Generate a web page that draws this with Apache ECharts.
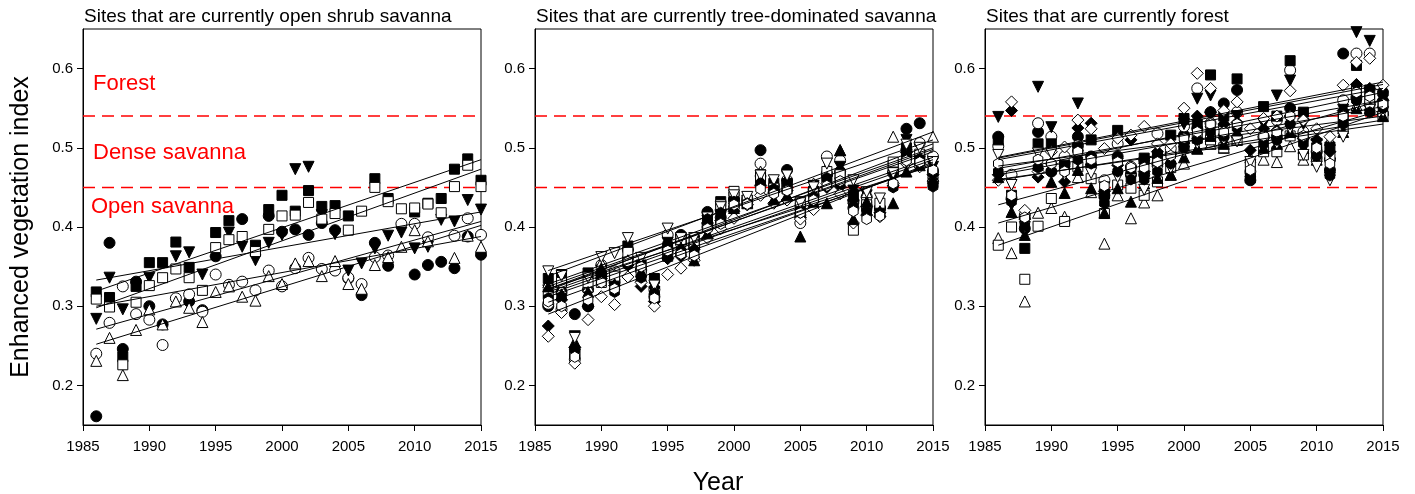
<!DOCTYPE html>
<html><head><meta charset="utf-8">
<script src="https://cdn.jsdelivr.net/npm/echarts@6/dist/echarts.min.js"></script>
<style>html,body{margin:0;padding:0;background:#fff}#c{width:1415px;height:494px}</style>
</head><body><div id="c"></div>
<script>
// ---------- DATA ----------
const years = [1986,1987,1988,1989,1990,1991,1992,1993,1994,1995,1996,1997,1998,1999,2000,2001,2002,2003,2004,2005,2006,2007,2008,2009,2010,2011,2012,2013,2014,2015];
const panelTitles = ['Sites that are currently open shrub savanna','Sites that are currently tree-dominated savanna','Sites that are currently forest'];
const xTicks = [1985,1990,1995,2000,2005,2010,2015];
const yTicks = [0.2,0.3,0.4,0.5,0.6];
const thresholds = [0.54,0.45];
const zoneLabels = ['Forest','Dense savanna','Open savanna'];
const trendYears = [1986,2015];

// Panel 1: open shrub savanna
const shrubFilledCircle  = [0.161,0.380,0.246,0.331,0.300,0.277,null,0.306,0.295,0.363,null,0.410,null,0.414,0.394,0.397,0.390,0.405,0.396,0.335,0.314,0.380,0.351,null,0.340,0.352,0.356,0.348,0.388,0.365];
const shrubOpenCircle    = [0.240,0.279,0.325,0.290,0.283,0.251,0.310,0.315,0.293,0.340,0.327,0.331,0.320,0.345,0.325,0.348,0.361,0.347,0.345,0.336,0.328,0.362,0.364,0.404,0.404,0.387,null,0.389,0.411,0.390];
const shrubFilledDownTri = [0.284,0.336,0.296,null,0.336,null,0.363,0.368,0.340,null,0.393,0.375,0.358,0.380,0.390,0.473,0.476,0.415,0.391,0.345,0.354,0.373,0.389,0.393,0.373,0.375,0.409,0.407,0.434,0.422];
const shrubOpenUpTri     = [0.231,0.260,0.213,0.270,0.296,0.277,0.306,0.298,0.280,0.318,0.325,0.312,0.307,0.338,0.328,0.354,0.357,0.338,0.357,0.328,0.322,0.352,0.362,0.375,0.396,0.382,null,0.361,0.389,0.375];
const shrubFilledSquare  = [0.318,0.311,0.236,0.325,0.355,0.355,0.381,0.349,null,0.393,0.408,null,0.377,0.422,0.440,0.420,0.446,0.426,0.427,0.414,null,0.461,0.436,null,0.419,0.430,0.436,0.473,0.486,0.459];
const shrubOpenSquare    = [0.309,0.299,0.226,0.305,0.326,0.336,0.347,0.336,0.320,0.374,0.384,0.388,0.369,0.397,0.414,0.415,0.431,0.410,0.417,0.396,0.420,0.450,0.432,0.423,0.424,0.429,0.418,0.451,0.478,0.451];
const shrubTrendStart = [0.300,0.271,0.333,0.252,0.319,0.298];
const shrubTrendEnd   = [0.388,0.407,0.419,0.402,0.485,0.473];

// Panel 2: tree-dominated savanna
const treeFilledCircle   = [0.300,0.318,0.290,0.300,0.340,0.330,0.360,0.345,0.312,0.372,0.390,0.375,0.419,0.412,0.434,0.432,0.497,0.452,0.472,0.415,0.440,0.466,0.470,0.432,0.426,0.424,0.470,0.524,0.531,0.470];
const treeOpenCircle     = [0.303,0.296,0.233,0.321,0.352,0.344,0.371,0.346,0.321,0.390,0.379,0.377,0.400,0.421,0.425,0.436,0.480,0.447,0.459,0.405,0.447,0.489,0.484,0.424,0.438,0.424,0.468,0.497,0.506,0.489];
const treeFilledDownTri  = [0.320,0.325,0.262,0.315,0.345,0.335,0.365,0.340,0.318,0.380,0.376,0.382,0.408,0.415,0.430,0.433,0.458,0.440,0.452,0.420,0.452,0.458,0.476,0.446,0.440,0.418,0.462,0.510,0.489,0.476];
const treeOpenUpTri      = [0.330,0.322,0.252,0.325,0.355,0.340,0.362,0.338,0.322,0.375,0.372,0.368,0.410,0.412,0.436,0.430,0.470,0.452,0.462,0.428,0.455,0.476,0.497,0.436,0.444,0.428,0.514,0.505,0.496,0.514];
const treeFilledSquare   = [0.335,0.340,0.242,0.342,0.338,0.333,0.376,0.352,0.335,0.372,0.386,0.383,0.414,0.432,0.438,0.430,0.466,0.455,0.455,0.424,0.445,0.463,0.462,0.440,0.426,0.420,0.478,0.500,0.484,0.456];
const treeOpenSquare     = [0.315,0.330,0.240,0.330,0.330,0.338,0.368,0.342,0.312,0.363,0.384,0.380,0.402,0.428,0.445,0.434,0.462,0.449,0.448,0.432,0.443,0.470,0.466,0.396,0.428,0.430,0.482,0.490,0.492,0.468];
const treeFilledDiamond  = [0.275,0.308,0.248,0.300,0.335,0.326,0.352,0.325,0.306,0.360,0.363,0.372,0.405,0.408,0.420,0.428,0.452,0.444,0.446,0.412,0.432,0.450,0.451,0.434,0.415,0.418,0.452,0.494,0.480,0.466];
const treeOpenDiamond    = [0.262,0.292,0.228,0.283,0.312,0.302,0.337,0.330,0.300,0.340,0.348,0.358,0.386,0.398,0.411,0.428,0.440,0.430,0.434,0.410,0.422,0.455,0.442,0.405,0.426,0.413,0.455,0.480,0.476,0.458];
const treeFilledUpTri    = [0.325,0.315,0.255,0.318,0.348,0.328,0.358,0.344,0.330,0.368,0.374,0.358,0.392,0.410,0.424,0.432,0.460,0.435,0.440,0.388,0.432,0.430,0.497,0.410,0.432,0.420,0.430,0.470,0.478,0.462];
const treeOpenDownTri    = [0.344,0.338,0.260,0.336,0.362,0.367,0.386,0.361,0.326,0.398,0.386,0.386,0.412,0.425,0.440,0.438,0.465,0.459,0.465,0.430,0.450,0.480,0.455,0.459,0.444,0.436,0.468,0.504,0.500,0.482];
const treeFilledHexagon  = [0.310,0.312,0.245,0.300,0.342,0.318,0.352,0.336,0.316,0.378,0.370,0.370,0.410,0.418,0.432,0.430,0.455,0.448,0.452,0.418,0.438,0.462,0.455,0.426,0.420,0.415,0.450,0.488,0.486,0.451];
const treeOpenHexagon    = [0.306,0.300,0.236,0.308,0.330,0.322,0.356,0.350,0.310,0.370,0.366,0.364,0.398,0.404,0.428,0.429,0.448,0.442,0.446,0.418,0.434,0.452,0.458,0.420,0.410,0.414,0.455,0.484,0.482,0.472];
const treeTrendStart = [0.320,0.322,0.325,0.328,0.338,0.318,0.305,0.290,0.322,0.345,0.315,0.312];
const treeTrendEnd   = [0.505,0.498,0.495,0.500,0.520,0.488,0.480,0.482,0.478,0.510,0.485,0.478];

// Panel 3: forest
const forestFilledCircle  = [0.514,0.436,0.398,0.520,0.470,0.480,0.514,0.489,0.440,0.489,0.466,0.466,0.480,0.493,0.516,0.524,0.545,0.556,0.573,0.459,0.514,0.514,0.550,0.512,0.495,0.472,0.619,0.564,0.555,0.570];
const forestOpenCircle    = [0.502,0.466,0.415,0.531,0.514,0.489,0.503,0.478,0.459,0.505,0.476,0.485,0.518,0.499,0.527,0.575,0.531,0.527,0.545,0.470,0.514,0.535,0.598,0.520,0.487,0.485,0.560,0.619,0.619,0.543];
const forestFilledDownTri = [0.539,0.428,0.405,0.577,0.526,0.470,0.556,0.472,0.430,0.480,0.470,0.474,0.472,0.485,0.530,0.562,0.566,0.506,0.540,0.478,0.530,0.566,0.585,0.530,0.505,0.480,0.548,0.646,0.635,0.560];
const forestOpenUpTri     = [0.386,0.367,0.306,0.418,0.424,0.413,0.463,0.444,0.379,0.440,0.411,0.431,0.440,0.466,0.480,0.499,0.505,0.500,0.510,0.488,0.485,0.482,0.502,0.485,0.490,0.510,0.525,0.554,0.554,0.548];
const forestFilledSquare  = [0.510,0.440,0.373,0.505,0.505,0.478,0.500,0.510,0.442,0.522,0.470,0.487,0.490,0.516,0.537,0.530,0.592,0.540,0.587,0.462,0.552,0.540,0.610,0.545,0.500,0.501,0.540,0.604,0.573,0.556];
const forestOpenSquare    = [0.377,0.400,0.334,0.401,0.436,0.407,0.476,0.461,0.417,0.453,0.449,0.440,0.457,0.475,0.500,0.512,0.510,0.500,0.510,0.480,0.495,0.495,0.515,0.491,0.495,0.490,0.527,0.573,0.560,0.540];
const forestFilledDiamond = [0.466,0.547,0.410,0.463,0.480,0.457,0.525,0.531,0.445,0.478,0.510,0.470,0.495,0.480,0.506,0.540,0.545,0.530,0.532,0.497,0.524,0.522,0.540,0.512,0.510,0.495,0.547,0.580,0.575,0.560];
const forestOpenDiamond   = [0.459,0.558,0.421,0.470,0.495,0.501,0.535,0.524,0.499,0.512,0.516,0.527,0.505,0.505,0.550,0.594,0.575,0.547,0.558,0.524,0.537,0.540,0.572,0.535,0.524,0.514,0.579,0.608,0.613,0.579];
const forestFilledUpTri   = [0.463,0.419,0.390,0.480,0.457,0.443,0.472,0.449,0.418,0.449,0.432,0.455,0.462,0.466,0.488,0.499,0.515,0.505,0.520,0.470,0.500,0.505,0.520,0.500,0.485,0.475,0.520,0.550,0.550,0.540];
const forestOpenDownTri   = [0.491,0.453,0.400,0.493,0.493,0.466,0.490,0.468,0.450,0.463,0.460,0.447,0.470,0.474,0.495,0.505,0.520,0.510,0.508,0.482,0.505,0.505,0.524,0.491,0.476,0.459,0.514,0.554,0.548,0.545];
const forestFilledHexagon = [0.470,0.432,0.402,0.475,0.470,0.475,0.485,0.480,0.430,0.470,0.460,0.460,0.470,0.480,0.500,0.510,0.520,0.515,0.525,0.465,0.505,0.510,0.530,0.505,0.490,0.465,0.530,0.560,0.545,0.550];
const forestOpenHexagon   = [0.480,0.440,0.412,0.485,0.480,0.470,0.495,0.485,0.452,0.482,0.475,0.475,0.482,0.490,0.512,0.520,0.530,0.520,0.530,0.472,0.515,0.520,0.540,0.515,0.500,0.480,0.540,0.570,0.565,0.555];
const forestTrendStart = [0.474,0.485,0.487,0.377,0.428,0.405,0.468,0.488,0.459,0.477,0.460,0.466];
const forestTrendEnd   = [0.560,0.575,0.580,0.545,0.560,0.548,0.570,0.583,0.535,0.540,0.530,0.552];

// ---------- STYLE ----------
const FONT = '"Liberation Sans", Arial, Helvetica, sans-serif';
const HEX = 'path://M0,-10L8.66,-5L8.66,5L0,10L-8.66,5L-8.66,-5Z';
const markers = {
  fc:{symbol:'circle',size:11,filled:true}, oc:{symbol:'circle',size:11,filled:false},
  fdt:{symbol:'triangle',size:11,filled:true,rotate:180}, out:{symbol:'triangle',size:11,filled:false},
  fs:{symbol:'rect',size:10,filled:true}, os:{symbol:'rect',size:10,filled:false},
  fd:{symbol:'diamond',size:12,filled:true}, od:{symbol:'diamond',size:12,filled:false},
  fut:{symbol:'triangle',size:11,filled:true}, odt:{symbol:'triangle',size:11,filled:false,rotate:180},
  fh:{symbol:HEX,size:11,filled:true}, oh:{symbol:HEX,size:11,filled:false}
};
const markerOrder = ['fc','oc','fdt','out','fs','os','fd','od','fut','odt','fh','oh'];

const panels = [
  {series:[shrubFilledCircle,shrubOpenCircle,shrubFilledDownTri,shrubOpenUpTri,shrubFilledSquare,shrubOpenSquare], start:shrubTrendStart, end:shrubTrendEnd},
  {series:[treeFilledCircle,treeOpenCircle,treeFilledDownTri,treeOpenUpTri,treeFilledSquare,treeOpenSquare,treeFilledDiamond,treeOpenDiamond,treeFilledUpTri,treeOpenDownTri,treeFilledHexagon,treeOpenHexagon], start:treeTrendStart, end:treeTrendEnd},
  {series:[forestFilledCircle,forestOpenCircle,forestFilledDownTri,forestOpenUpTri,forestFilledSquare,forestOpenSquare,forestFilledDiamond,forestOpenDiamond,forestFilledUpTri,forestOpenDownTri,forestFilledHexagon,forestOpenHexagon], start:forestTrendStart, end:forestTrendEnd}
];
const gridLefts = [83,535,985];

const grids=[], xAxes=[], yAxes=[], series=[], titles=[];
panels.forEach((p,gi)=>{
  grids.push({left:gridLefts[gi], top:29, width:398, height:396, show:true, borderColor:'#000', borderWidth:1, backgroundColor:'transparent', outerBoundsMode:'none', containLabel:false});
  titles.push({text:panelTitles[gi], left:gridLefts[gi]+1, top:7, padding:0, textStyle:{fontFamily:FONT, fontSize:19, fontWeight:'normal', color:'#000'}});
  xAxes.push({type:'value', gridIndex:gi, min:1985, max:2015, interval:5,
    axisLine:{show:true, onZero:false, lineStyle:{color:'#000', width:1}},
    axisTick:{show:true, inside:false, length:6, lineStyle:{color:'#000'}},
    axisLabel:{color:'#000', fontFamily:FONT, fontSize:15, margin:14, showMinLabel:true, showMaxLabel:true, formatter:v=>String(v)},
    splitLine:{show:false}});
  yAxes.push({type:'value', gridIndex:gi, min:0.15, max:0.65,
    axisLine:{show:true, onZero:false, lineStyle:{color:'#000', width:1}},
    axisTick:{show:true, inside:false, length:6, lineStyle:{color:'#000'}, customValues:yTicks},
    axisLabel:{color:'#000', fontFamily:FONT, fontSize:15, margin:10, customValues:yTicks, formatter:v=>v.toFixed(1)},
    splitLine:{show:false}});
  thresholds.forEach(t=>{
    series.push({type:'line', xAxisIndex:gi, yAxisIndex:gi, silent:true, symbol:'none', z:1,
      data:[[1985,t],[2015,t]], lineStyle:{color:'#ff0000', width:1.5, type:[12,7]}});
  });
  p.series.forEach((vals,si)=>{
    const m = markers[markerOrder[si]];
    series.push({type:'scatter', xAxisIndex:gi, yAxisIndex:gi, silent:true, z:2,
      symbol:m.symbol, symbolSize:m.size, symbolRotate:m.rotate||0, symbolKeepAspect:true,
      itemStyle:{color:m.filled?'#000':'#fff', borderColor:'#000', borderWidth:1, opacity:1},
      data: years.map((y,i)=> vals[i]==null?null:[y,vals[i]]).filter(d=>d)});
  });
  p.start.forEach((s,si)=>{
    series.push({type:'line', xAxisIndex:gi, yAxisIndex:gi, silent:true, symbol:'none', z:3,
      data:[[trendYears[0],s],[trendYears[1],p.end[si]]], lineStyle:{color:'#000', width:1}});
  });
});

const chart = echarts.init(document.getElementById('c'), null, {renderer:'canvas'});
chart.setOption({
  animation:false,
  backgroundColor:'#fff',
  title:titles,
  grid:grids, xAxis:xAxes, yAxis:yAxes, series:series,
  graphic:[
    {type:'text', x:21, y:227, rotation:Math.PI/2, style:{text:'Enhanced vegetation index', font:'25px '+FONT, fill:'#000', align:'center', verticalAlign:'middle'}},
    {type:'text', x:718, y:483, style:{text:'Year', font:'25px '+FONT, fill:'#000', align:'center', verticalAlign:'middle'}},
    {type:'text', x:93, y:84, style:{text:zoneLabels[0], font:'22px '+FONT, fill:'#ff0000', verticalAlign:'middle'}},
    {type:'text', x:93, y:153, style:{text:zoneLabels[1], font:'22px '+FONT, fill:'#ff0000', verticalAlign:'middle'}},
    {type:'text', x:91, y:207, style:{text:zoneLabels[2], font:'22px '+FONT, fill:'#ff0000', verticalAlign:'middle'}}
  ]
});
</script></body></html>
